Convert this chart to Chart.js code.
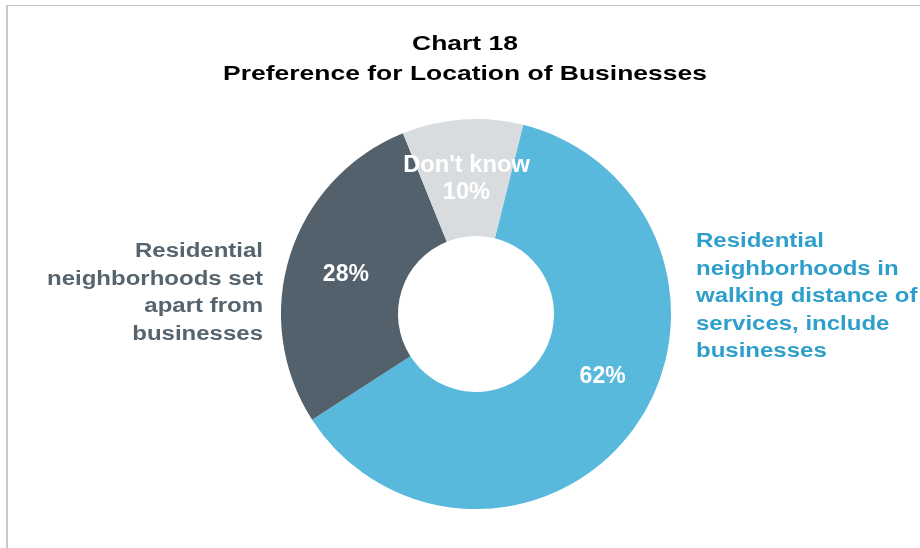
<!DOCTYPE html>
<html>
<head>
<meta charset="utf-8">
<script src="https://cdn.jsdelivr.net/npm/chart.js@4.4.0/dist/chart.umd.min.js"></script>
<style>
  html, body { margin: 0; padding: 0; background: #fff; }
  #wrap { position: relative; width: 920px; height: 548px; }
</style>
</head>
<body>
<div id="wrap"><canvas id="chart" width="920" height="548"></canvas></div>
<script>
// data
const categories = ["Residential neighborhoods in walking distance of services, include businesses",
                    "Residential neighborhoods set apart from businesses",
                    "Don't know"];
const values = [62, 28, 10];
const colors = ["#58B9DD", "#52616B", "#D8DCDF"];
const titleLines = ["Chart 18", "Preference for Location of Businesses"];

// outside label lines for each slice (null = label sits inside)
const outerLabels = [
  ["Residential", "neighborhoods in", "walking distance of", "services, include", "businesses"],
  ["Residential", "neighborhoods set", "apart from", "businesses"],
  null
];

const FAM = "'Liberation Sans', Arial, sans-serif";

// text is a bit wider in the original, so stretch it horizontally
function wideText(c, t, x, y, sx) {
  c.save();
  c.translate(x, y);
  c.scale(sx, 1);
  c.fillText(t, 0, 0);
  c.restore();
}

const decor = {
  id: 'decor',
  beforeDraw(chart) {
    const c = chart.ctx;
    c.save();
    c.fillStyle = '#C0C9CF';
    c.fillRect(6, 5, 2, 543);
    c.fillRect(6, 5, 914, 1);
    c.fillStyle = '#000';
    c.font = "bold 21px " + FAM;
    c.textAlign = 'center';
    c.textBaseline = 'alphabetic';
    wideText(c, titleLines[0], 465, 50, 1.26);
    wideText(c, titleLines[1], 465, 80, 1.26);
    c.restore();
  },
  afterDraw(chart) {
    const c = chart.ctx;
    const meta = chart.getDatasetMeta(0);
    c.save();
    c.textBaseline = 'alphabetic';
    meta.data.forEach((arc, i) => {
      const p = arc.getProps(['x', 'y', 'startAngle', 'endAngle', 'innerRadius', 'outerRadius']);
      const mid = (p.startAngle + p.endAngle) / 2;
      c.fillStyle = '#fff';
      c.textAlign = 'center';
      c.font = "bold 23px " + FAM;
      if (i === 2) {
        const r = p.outerRadius * 0.70;
        const x = p.x + Math.cos(mid) * r, y = p.y + Math.sin(mid) * r;
        wideText(c, categories[i], x, y - 6, 1.03);
        wideText(c, values[i] + '%', x, y + 21, 1.03);
      } else {
        const a = i === 0 ? mid - 10 * Math.PI / 180 : mid;
        const r = i === 0 ? p.outerRadius * 0.72 : p.outerRadius * 0.70;
        const x = p.x + Math.cos(a) * r, y = p.y + Math.sin(a) * r;
        wideText(c, values[i] + '%', x, y + 8, 1.0);
      }
      const lines = outerLabels[i];
      if (!lines) return;
      c.font = "bold 20px " + FAM;
      if (i === 0) {
        c.fillStyle = '#2E9FCB';
        c.textAlign = 'left';
        const x0 = p.x + p.outerRadius + 25, y0 = p.y - 67;
        lines.forEach((t, k) => wideText(c, t, x0, y0 + k * 27.5, 1.2));
      } else {
        c.fillStyle = '#56646E';
        c.textAlign = 'right';
        const x0 = p.x - p.outerRadius - 18, y0 = p.y - 57;
        lines.forEach((t, k) => wideText(c, t, x0, y0 + k * 27.6, 1.2));
      }
    });
    c.restore();
  }
};

new Chart(document.getElementById('chart'), {
  type: 'doughnut',
  data: {
    labels: categories,
    datasets: [{
      data: values,
      backgroundColor: colors,
      borderWidth: 0
    }]
  },
  options: {
    responsive: false,
    animation: false,
    rotation: 14,
    cutout: '40%',
    layout: { padding: { top: 118, bottom: 38, left: 281, right: 249 } },
    plugins: {
      legend: { display: false },
      title: { display: false },
      tooltip: { enabled: false }
    }
  },
  plugins: [decor]
});
</script>
</body>
</html>
